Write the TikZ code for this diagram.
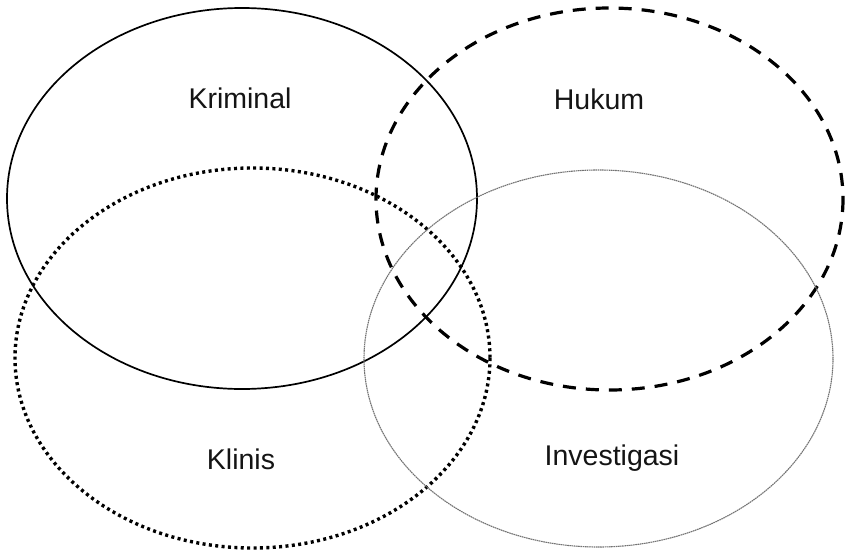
\documentclass[tikz,border=0pt]{standalone}
\usepackage{fontspec}
\setmainfont{Liberation Sans}
\begin{document}
\begin{tikzpicture}[x=1pt,y=-1pt,
  solidring/.style={draw=black, line width=1.7pt},
  dashring/.style={draw=black, line width=3.2pt, dash pattern=on 13pt off 10pt},
  dotring/.style={draw=black, line width=3.4pt, dash pattern=on 3pt off 3.4pt},
  fine/.style={draw=black!55, line width=1.1pt, dash pattern=on 1.6pt off 0.6pt},
  lbl/.style={font=\fontsize{28.5}{30}\selectfont, text=black!92, inner sep=0pt}]
\useasboundingbox (0,0) rectangle (849,552);
\fill[white] (0,0) rectangle (849,552);
\draw[solidring] (242,198.5) ellipse [x radius=235, y radius=190.5];
\draw[dashring] (609.5,199) ellipse [x radius=233.5, y radius=191];
\draw[dotring] (252.5,358) ellipse [x radius=237.5, y radius=190];
\draw[fine] (598.5,358.5) ellipse [x radius=234.5, y radius=188.5];
\node[lbl] (kriminal) at (240,98) {Kriminal};
\node[lbl] (hukum) at (599,99) {Hukum};
\node[lbl] (klinis) at (241,459) {Klinis};
\node[lbl] (investigasi) at (612,458) {Investigasi};
\end{tikzpicture}
\end{document}
